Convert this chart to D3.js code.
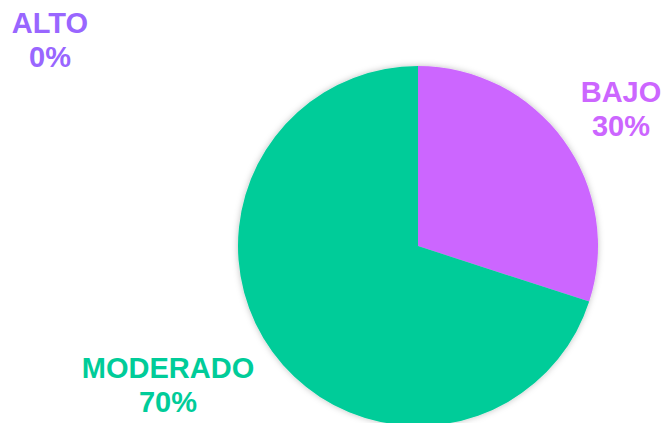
<!DOCTYPE html>
<html>
<head>
<meta charset="utf-8">
<script src="https://cdn.jsdelivr.net/npm/d3@7"></script>
<style>
  body { margin: 0; background: #fff; }
  text { font-family: "Liberation Sans", Arial, sans-serif; font-weight: bold; }
</style>
</head>
<body>
<div id="pie"></div>
<script>
var categories = ["ALTO", "BAJO", "MODERADO"];
var values = [0, 30, 70];
var colors = ["#9966FF", "#CC66FF", "#00CC99"];

var width = 663, height = 423,
    cx = 418, cy = 246, radius = 180;

// where each label sits (layout only)
var labelPos = {
    "ALTO": [50, 33],
    "BAJO": [621, 102],
    "MODERADO": [168, 378]
};

var svg = d3.select("#pie")
    .append("svg")
    .attr("width", width)
    .attr("height", height);

var defs = svg.append("defs");
var filt = defs.append("filter")
    .attr("id", "shadow")
    .attr("x", "-10%").attr("y", "-10%")
    .attr("width", "120%").attr("height", "120%");
filt.append("feDropShadow")
    .attr("dx", 0).attr("dy", 0)
    .attr("stdDeviation", 3)
    .attr("flood-color", "#000")
    .attr("flood-opacity", 0.25);

var data = categories.map(function(c, i) {
    return {cat: c, value: values[i], color: colors[i]};
});

var pie = d3.pie()
    .sort(null)
    .value(function(d) { return d.value; });

var arc = d3.arc()
    .innerRadius(0)
    .outerRadius(radius);

var g = svg.append("g")
    .attr("transform", "translate(" + cx + "," + cy + ")")
    .attr("filter", "url(#shadow)");

g.selectAll("path")
    .data(pie(data))
    .enter().append("path")
    .attr("d", arc)
    .style("fill", function(d) { return d.data.color; });

var labels = svg.selectAll(".lbl")
    .data(data)
    .enter().append("text")
    .attr("class", "lbl")
    .attr("text-anchor", "middle")
    .style("font-size", "29px")
    .style("fill", function(d) { return d.color; });

labels.append("tspan")
    .attr("x", function(d) { return labelPos[d.cat][0]; })
    .attr("y", function(d) { return labelPos[d.cat][1]; })
    .text(function(d) { return d.cat; });

labels.append("tspan")
    .attr("x", function(d) { return labelPos[d.cat][0]; })
    .attr("y", function(d) { return labelPos[d.cat][1] + 34; })
    .text(function(d) { return d.value + "%"; });
</script>
</body>
</html>
